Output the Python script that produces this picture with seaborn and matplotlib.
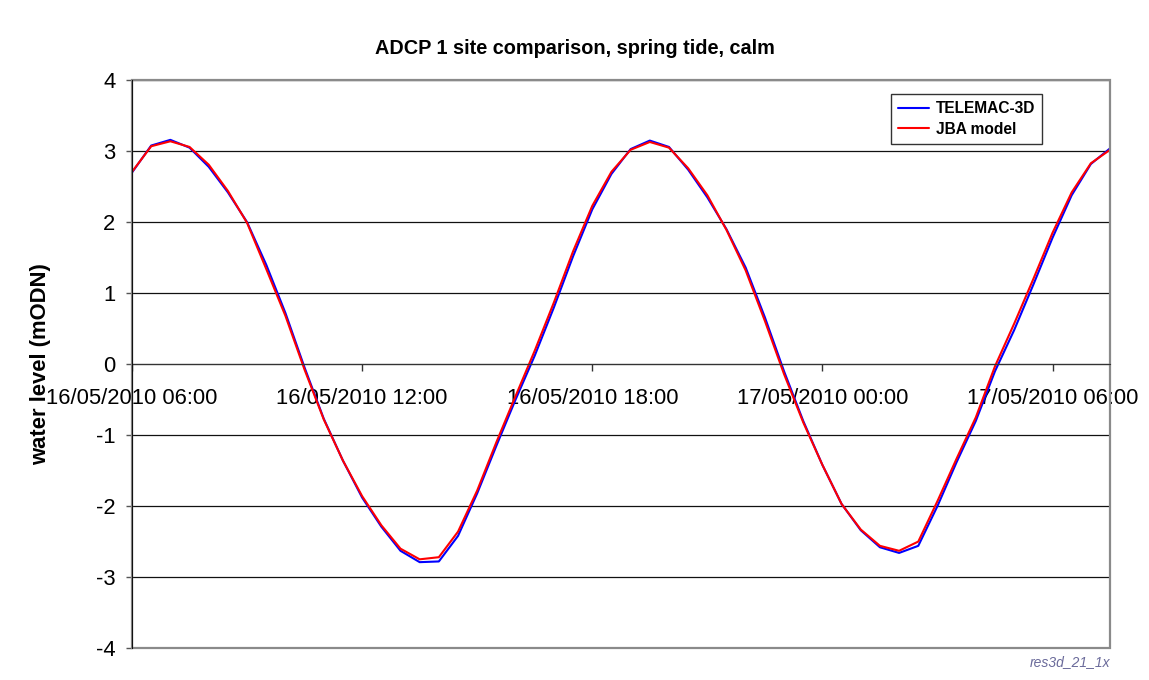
import pandas as pd
import numpy as np
import matplotlib
matplotlib.use("Agg")
import matplotlib.pyplot as plt
import matplotlib.dates as mdates
from matplotlib.patches import Rectangle
import seaborn as sns

# water level every 30 min from 16/05/2010 06:00 to 17/05/2010 07:30
times = pd.date_range("2010-05-16 06:00", "2010-05-17 07:30", freq="30min")

telemac = [2.70, 3.08, 3.16, 3.05, 2.78, 2.42, 2.00, 1.40, 0.72, -0.05,
           -0.77, -1.36, -1.88, -2.29, -2.63, -2.79, -2.78, -2.42, -1.82, -1.15,
           -0.50, 0.12, 0.80, 1.52, 2.18, 2.68, 3.03, 3.15, 3.06, 2.74,
           2.35, 1.90, 1.36, 0.66, -0.10, -0.80, -1.42, -1.97, -2.34, -2.58,
           -2.66, -2.56, -2.00, -1.38, -0.80, -0.10, 0.48, 1.12, 1.78, 2.38,
           2.82, 3.04]

jba = [2.71, 3.07, 3.14, 3.06, 2.81, 2.44, 1.99, 1.34, 0.68, -0.08,
       -0.78, -1.36, -1.86, -2.27, -2.60, -2.75, -2.72, -2.36, -1.78, -1.10,
       -0.45, 0.19, 0.87, 1.59, 2.23, 2.71, 3.02, 3.13, 3.05, 2.76,
       2.38, 1.89, 1.32, 0.61, -0.14, -0.82, -1.42, -1.97, -2.33, -2.56,
       -2.63, -2.50, -1.93, -1.33, -0.75, -0.03, 0.57, 1.20, 1.85, 2.42,
       2.83, 3.02]

series_names = ["TELEMAC-3D", "JBA model"]
colors = {"TELEMAC-3D": "#0000ff", "JBA model": "#ff0000"}

df = pd.DataFrame({
    "time": list(times) * 2,
    "level": telemac + jba,
    "series": [series_names[0]] * len(times) + [series_names[1]] * len(times),
})

sns.set_style("white")
plt.rcParams["font.family"] = ["Liberation Sans", "DejaVu Sans"]
plt.rcParams["axes.unicode_minus"] = False
plt.rcParams["text.color"] = "black"
plt.rcParams["axes.labelcolor"] = "black"
plt.rcParams["xtick.color"] = "black"
plt.rcParams["ytick.color"] = "black"

fig = plt.figure(figsize=(11.49, 6.8), dpi=100)
ax = fig.add_axes([0.1149, 0.047, 0.8512, 0.835])

sns.lineplot(data=df, x="time", y="level", hue="series", hue_order=series_names,
             palette=colors, linewidth=1.5, ax=ax)

ax.set_ylim(-4, 4)
ax.set_xlim(times[0], times[-1])
ax.set_yticks(range(-4, 5))
ax.yaxis.grid(True, color="#111111", linewidth=0.9)
ax.xaxis.grid(False)
ax.set_axisbelow(True)

# x axis crossing at zero
ax.spines["bottom"].set_position(("data", 0))
ax.spines["bottom"].set_color("#333333")
ax.spines["left"].set_color("#111111")
ax.spines["left"].set_zorder(3)
ax.spines["top"].set_visible(False)
ax.spines["right"].set_visible(False)
ax.add_patch(Rectangle((0, 0), 1, 1, transform=ax.transAxes, fill=False,
                       edgecolor="#8a8a8a", linewidth=1.6, clip_on=False, zorder=2.4))

ax.xaxis.set_major_locator(mdates.HourLocator(byhour=[0, 6, 12, 18]))
ax.xaxis.set_major_formatter(mdates.DateFormatter("%d/%m/%Y %H:%M"))
ax.tick_params(axis="x", direction="out", length=5, width=1, pad=12,
               labelsize=15.8, bottom=True, color="#333333")
ax.tick_params(axis="y", direction="out", length=4, width=1, pad=8,
               labelsize=15.8, left=True, color="#555555")
for lab in ax.get_xticklabels():
    lab.set_clip_on(False)

ax.set_xlabel("")
ax.set_ylabel("water level (mODN)", fontsize=15.8, fontweight="bold")
ax.yaxis.set_label_coords(-0.083, 0.5)

fig.suptitle("ADCP 1 site comparison, spring tide, calm", fontsize=14.3,
             fontweight="bold", x=0.5, y=0.929, va="center")

leg = ax.legend(loc="upper right", bbox_to_anchor=(0.9305, 0.975), borderaxespad=0,
                frameon=True, fancybox=False, handlelength=2.0, handletextpad=0.4,
                labelspacing=0.35, borderpad=0.45, prop={"weight": "bold", "size": 11.2})
leg.get_frame().set_edgecolor("black")
leg.get_frame().set_linewidth(1.0)
for line in leg.get_lines():
    line.set_linewidth(1.5)

fig.text(0.966, 0.026, "res3d_21_1x", ha="right", va="center", fontsize=10,
         style="italic", color="#6a6a9a")

fig.savefig("out.png", dpi=100)
